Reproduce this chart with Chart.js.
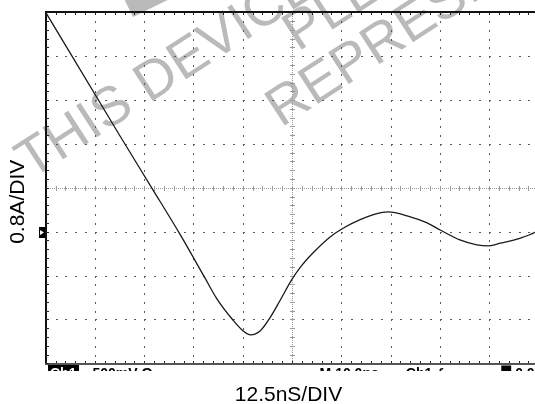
<!DOCTYPE html>
<html>
<head>
<meta charset="utf-8">
<script src="https://cdn.jsdelivr.net/npm/chart.js@4/dist/chart.umd.min.js"></script>
<style>
  html, body { margin: 0; padding: 0; background: #fff; overflow: hidden; }
  #wrap { width: 545px; height: 404px; }
</style>
</head>
<body>
<div id="wrap"><canvas id="scope" width="545" height="404"></canvas></div>
<script>
// Captured waveform: time in ns, current in A (ground reference = 0 A)
const timeNs = [0, 18.9, 26.9, 34.1, 40.3, 43.4, 47.5, 50.1, 52.0, 54.4, 56.9, 59.5, 62.4, 64.5, 67.8,
  72.1, 75.9, 79.8, 83.6, 86.9, 91.7, 96.8, 100.1, 105.1, 109.4, 112.2, 115.3, 120.3, 124.2, 125];
const currentA = [4.0, 1.74, 0.80, -0.05, -0.83, -1.22, -1.61, -1.81, -1.88, -1.81, -1.57, -1.25, -0.88, -0.66, -0.39,
  -0.10, 0.08, 0.22, 0.32, 0.36, 0.29, 0.16, 0.03, -0.15, -0.24, -0.26, -0.21, -0.12, -0.01, 0.03];

// Graticule: 10 x 8 divisions, 12.5 ns/div and 0.8 A/div, 5 minor steps per division
const xDivs = [0, 12.5, 25, 37.5, 50, 62.5, 75, 87.5, 100, 112.5, 125];
const yDivs = [-2.4, -1.6, -0.8, 0, 0.8, 1.6, 2.4, 3.2, 4.0];
const minorSteps = 5;

const xTitle = '12.5nS/DIV';
const yTitle = '0.8A/DIV';
const watermark = ['THIS DEVICE IS', 'PLEASE', 'REPRESENTATIVE'];

// Partly hidden readout line under the screen
const readout = [
  { text: '500mV Ω', at: 0.095 },
  { text: 'M 10.0ns', at: 0.556 },
  { text: 'Ch1 ƒ  ▬', at: 0.731 },
  { text: '▀ 0.0', at: 0.925 }
];

const graticulePlugin = {
  id: 'graticule',
  beforeDatasetsDraw(chart) {
    const { ctx, chartArea: { left, right, top, bottom }, scales: { x, y } } = chart;
    const xStep = (x.getPixelForValue(xDivs[1]) - x.getPixelForValue(xDivs[0])) / minorSteps;
    const yStep = (y.getPixelForValue(yDivs[0]) - y.getPixelForValue(yDivs[1])) / minorSteps;
    const cx = x.getPixelForValue(xDivs[5]);
    const cy = y.getPixelForValue(yDivs[4]);

    ctx.save();

    // watermark, rotated text plus the corner of a logo block
    ctx.fillStyle = '#bababa';
    ctx.font = '55px "Liberation Sans", Arial, sans-serif';
    ctx.textBaseline = 'alphabetic';
    const ang = -33 * Math.PI / 180;
    const anchors = [[31, 180], [298, 52], [281, 128]];
    watermark.forEach((t, i) => {
      ctx.save();
      ctx.translate(anchors[i][0], anchors[i][1]);
      ctx.rotate(ang);
      ctx.fillText(t, 0, 0);
      ctx.restore();
    });
    ctx.save();
    ctx.translate(133, 17);
    ctx.rotate(ang - Math.PI / 2 + 0.12);
    ctx.fillRect(0, 0, 60, 60);
    ctx.restore();

    // dotted division lines
    ctx.fillStyle = '#5a5a5a';
    xDivs.forEach((v, i) => {
      if (i === 0 || i === 5) return;
      const px = Math.round(x.getPixelForValue(v));
      for (let yy = top; yy <= bottom; yy += yStep) ctx.fillRect(px, Math.round(yy), 1, 2);
    });
    yDivs.forEach((v, i) => {
      if (i === 4 || i === yDivs.length - 1) return;
      const py = Math.round(y.getPixelForValue(v));
      for (let xx = left; xx <= right; xx += xStep) ctx.fillRect(Math.round(xx), py, 2, 1);
    });

    // centre cross with minor ticks
    ctx.fillStyle = '#9a9a9a';
    for (let xx = left; xx <= right; xx += 2) ctx.fillRect(Math.round(xx), Math.round(cy), 1, 1);
    for (let yy = top; yy <= bottom; yy += 2) ctx.fillRect(Math.round(cx), Math.round(yy), 1, 1);
    for (let xx = left; xx <= right; xx += xStep) ctx.fillRect(Math.round(xx), Math.round(cy) - 2, 1, 5);
    for (let yy = top; yy <= bottom; yy += yStep) ctx.fillRect(Math.round(cx) - 2, Math.round(yy), 5, 1);

    // frame and edge ticks
    ctx.fillStyle = '#111';
    ctx.fillRect(Math.round(left) - 1, Math.round(top), 2, bottom - top + 1);
    ctx.fillRect(Math.round(left) - 1, Math.round(top) - 1, right - left + 2, 2);
    ctx.fillStyle = '#555';
    ctx.fillRect(Math.round(left) - 1, Math.round(bottom), right - left + 2, 2);
    ctx.fillStyle = '#222';
    for (let xx = left; xx <= right; xx += xStep) {
      ctx.fillRect(Math.round(xx), Math.round(top), 1, 3);
      ctx.fillRect(Math.round(xx), Math.round(bottom) - 2, 1, 2);
    }
    for (let yy = top; yy <= bottom; yy += yStep) ctx.fillRect(Math.round(left), Math.round(yy), 3, 1);

    ctx.restore();
  },
  afterDraw(chart) {
    const { ctx, chartArea: { left, right, top, bottom }, scales: { y } } = chart;
    ctx.save();

    // ground level marker
    const gy = Math.round(y.getPixelForValue(0));
    ctx.fillStyle = '#000';
    ctx.fillRect(Math.round(left) - 7, gy - 5, 6, 11);
    ctx.fillStyle = '#fff';
    ctx.beginPath();
    ctx.moveTo(Math.round(left) - 6, gy - 2);
    ctx.lineTo(Math.round(left) - 2, gy + 0.5);
    ctx.lineTo(Math.round(left) - 6, gy + 3);
    ctx.closePath();
    ctx.fill();

    // readout strip, only its upper edge shows under the frame
    ctx.save();
    ctx.beginPath();
    ctx.rect(0, Math.round(bottom) + 2, chart.width, 6);
    ctx.clip();
    const ry = Math.round(bottom) + 15;
    ctx.font = 'bold 14px "Liberation Sans", Arial, sans-serif';
    ctx.fillStyle = '#000';
    ctx.fillRect(Math.round(left) + 2, Math.round(bottom) + 2, 31, 12);
    ctx.fillStyle = '#fff';
    ctx.fillText('Ch1', Math.round(left) + 4, ry);
    ctx.fillStyle = '#000';
    readout.forEach(r => ctx.fillText(r.text, left + (right - left) * r.at, ry));
    ctx.restore();

    // axis captions
    ctx.fillStyle = '#000';
    ctx.font = '21px "Liberation Sans", Arial, sans-serif';
    ctx.textAlign = 'center';
    ctx.textBaseline = 'alphabetic';
    ctx.fillText(xTitle, (left + right) / 2 - 3.5, bottom + 38);
    ctx.translate(left - 22, (top + bottom) / 2 + 14);
    ctx.rotate(-Math.PI / 2);
    ctx.fillText(yTitle, 0, 0);

    ctx.restore();
  }
};

new Chart(document.getElementById('scope').getContext('2d'), {
  type: 'line',
  data: {
    datasets: [{
      data: timeNs.map((t, i) => ({ x: t, y: currentA[i] })),
      borderColor: '#1a1a1a',
      borderWidth: 1.3,
      pointRadius: 0,
      fill: false,
      cubicInterpolationMode: 'monotone'
    }]
  },
  options: {
    responsive: false,
    devicePixelRatio: 1,
    animation: false,
    layout: { padding: { left: 45.7, top: 12.3, right: 6.7, bottom: 40.7 } },
    plugins: { legend: { display: false }, tooltip: { enabled: false } },
    scales: {
      x: { type: 'linear', min: 0, max: 125, display: false },
      y: { type: 'linear', min: -2.4, max: 4.0, display: false }
    }
  },
  plugins: [graticulePlugin]
});
</script>
</body>
</html>
